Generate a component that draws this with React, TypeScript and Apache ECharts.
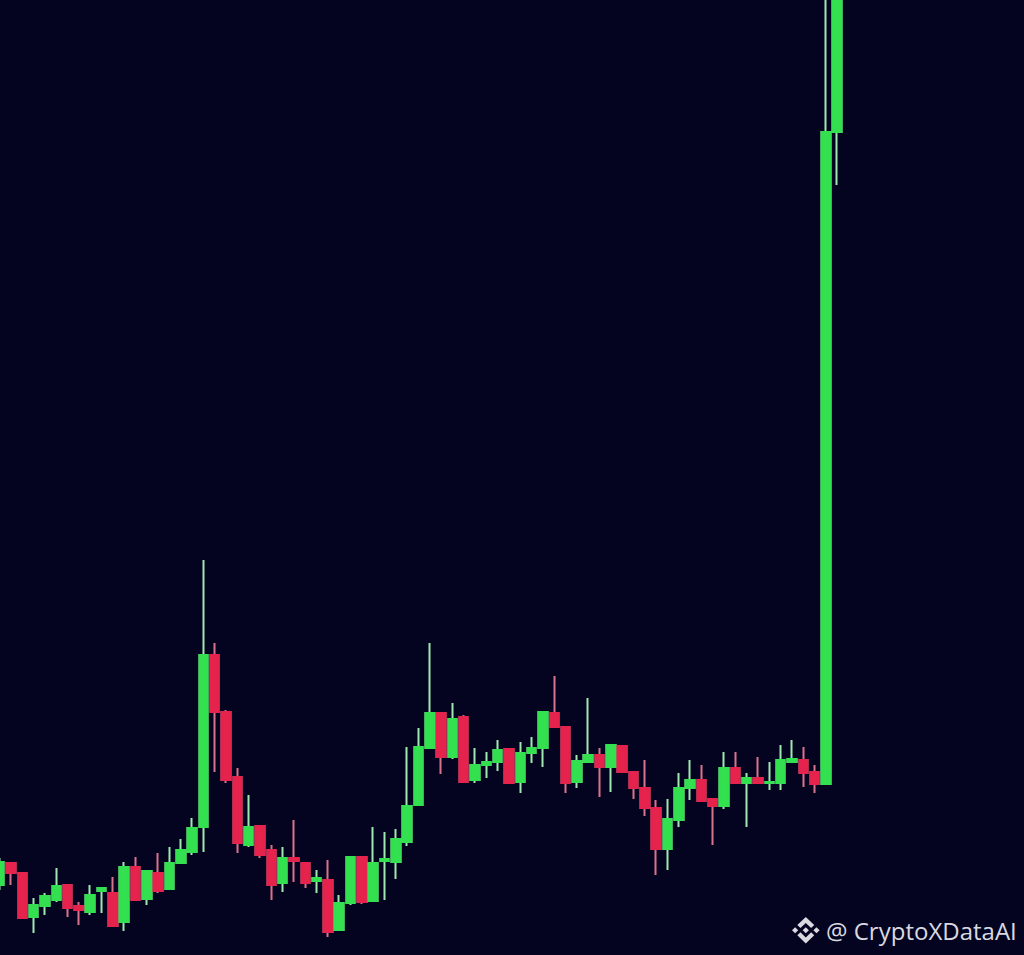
import React, { useEffect, useRef } from "react";
import * as echarts from "echarts";

// Candle values (arbitrary price units), one entry per candle, oldest first
const opens = [
  70, 92, 82, 38, 49, 55, 70, 49, 43, 64, 62, 33, 88, 56, 82, 66, 92, 103, 128, 300,
  243, 178, 110, 129, 105, 72, 97, 92, 74, 75, 25, 52, 98, 54, 94, 93, 113, 150, 207, 242,
  198, 238, 175, 190, 193, 206, 173, 202, 207, 242, 228, 173, 193, 200, 188, 209, 183, 167, 147, 106,
  135, 167, 175, 156, 149, 187, 172, 177, 172, 172, 193, 195, 183, 171, 823,
];
const closes = [
  93, 82, 37, 50, 59, 69, 47, 45, 60, 67, 29, 88, 55, 84, 64, 92, 105, 127, 300, 243,
  175, 112, 128, 100, 70, 97, 94, 72, 77, 23, 52, 98, 53, 92, 96, 116, 149, 208, 242, 198,
  236, 173, 190, 193, 205, 172, 202, 207, 243, 228, 172, 194, 200, 188, 210, 183, 167, 147, 106, 136,
  167, 175, 154, 149, 187, 172, 177, 172, 173, 195, 196, 182, 171, 823, 1035,
];
const lows = [
  65, 70, 37, 22, 40, 53, 38, 30, 40, 42, 29, 24, 55, 50, 62, 65, 91, 100, 103, 183,
  172, 102, 108, 97, 55, 63, 73, 67, 62, 18, 25, 50, 51, 53, 55, 76, 109, 150, 207, 181,
  196, 173, 172, 177, 184, 172, 162, 192, 188, 228, 162, 167, 193, 158, 163, 183, 156, 139, 80, 85,
  128, 155, 154, 110, 146, 172, 128, 172, 165, 165, 193, 168, 162, 171, 770,
];
const highs = [
  97, 93, 83, 57, 62, 87, 70, 53, 70, 68, 78, 93, 98, 84, 102, 108, 116, 137, 395, 312,
  245, 187, 160, 129, 110, 108, 135, 92, 85, 95, 60, 98, 98, 128, 123, 126, 208, 227, 312, 242,
  252, 240, 207, 203, 215, 206, 213, 218, 243, 279, 228, 200, 257, 207, 210, 209, 183, 195, 155, 156,
  182, 195, 190, 156, 203, 203, 182, 198, 193, 210, 215, 208, 190, 995, 1055,
];

const SLOT_COUNT = 91;
const categories = Array.from({ length: SLOT_COUNT }, (_, i) => String(i + 1));
const watermarkText = "@ CryptoXDataAI";

const UP_BODY = "#33e04f";
const DOWN_BODY = "#e5234c";
const UP_WICK = "#9fe8b0";
const DOWN_WICK = "#d9728c";
const BG = "#050420";

const BINANCE_D =
  "M16.624 13.9202l2.7175 2.7154-7.353 7.353-7.353-7.352 2.7175-2.7164 4.6355 4.6595 4.6356-4.6595zm4.6366-4.6366L24 12l-2.7154 2.7164L18.5682 12l2.6924-2.7164zm-9.272.001l2.7163 2.6914-2.7164 2.7174v-.001L9.2721 12l2.7164-2.7154zm-9.2722-.001L5.4088 12l-2.6914 2.6924L0 12l2.7164-2.7164zM11.9885.0115l7.353 7.329-2.7174 2.7154-4.6356-4.6356-4.6355 4.6595-2.7174-2.7154 7.353-7.353z";

const SHIFT = 6;

let registered = false;

export default function App() {
  const ref = useRef<HTMLDivElement>(null);

  useEffect(() => {
    document.body.style.margin = "0";
    document.body.style.background = BG;
    document.body.style.overflow = "hidden";
    if (!registered) {
      echarts.graphic.registerShape("logo", echarts.graphic.extendPath(BINANCE_D, {}));
      registered = true;
    }
    const chart = echarts.init(ref.current!, null, { renderer: "svg" });

    const fullData = opens.map((o, i) => [o, closes[i], lows[i], highs[i]]);
    const bodyData = opens.map((o, i) => [o, closes[i], Math.min(o, closes[i]), Math.max(o, closes[i])]);

    chart.setOption({
      animation: false,
      backgroundColor: BG,
      grid: { left: 0, right: 0, top: 0, bottom: 0 },
      xAxis: {
        type: "category",
        data: categories,
        show: false,
        boundaryGap: true,
      },
      yAxis: {
        type: "value",
        min: 0,
        max: 955,
        show: false,
        splitLine: { show: false },
      },
      series: [
        {
          type: "candlestick",
          data: fullData,
          barWidth: 9,
          clip: true,
          itemStyle: {
            color: UP_BODY,
            color0: DOWN_BODY,
            borderColor: UP_WICK,
            borderColor0: DOWN_WICK,
            borderWidth: 2,
          },
        },
        {
          type: "candlestick",
          data: bodyData,
          barWidth: 9,
          clip: true,
          itemStyle: {
            color: UP_BODY,
            color0: DOWN_BODY,
            borderColor: UP_BODY,
            borderColor0: DOWN_BODY,
            borderWidth: 2,
          },
        },
      ],
      graphic: [
        {
          type: "logo",
          x: 792 + SHIFT,
          y: 917,
          scaleX: 1.15,
          scaleY: 1.1,
          style: { fill: "#d9d9e0" },
        },
        {
          type: "text",
          x: 826 + SHIFT,
          y: 930,
          style: {
            text: watermarkText,
            fill: "#d9d9e0",
            fontSize: 24,
            fontFamily: "Open Sans",
            verticalAlign: "middle",
            align: "left",
          },
        },
      ],
    });

    return () => chart.dispose();
  }, []);

  return <div ref={ref} style={{ width: 1024 + SHIFT, height: 955, marginLeft: -SHIFT }} />;
}
